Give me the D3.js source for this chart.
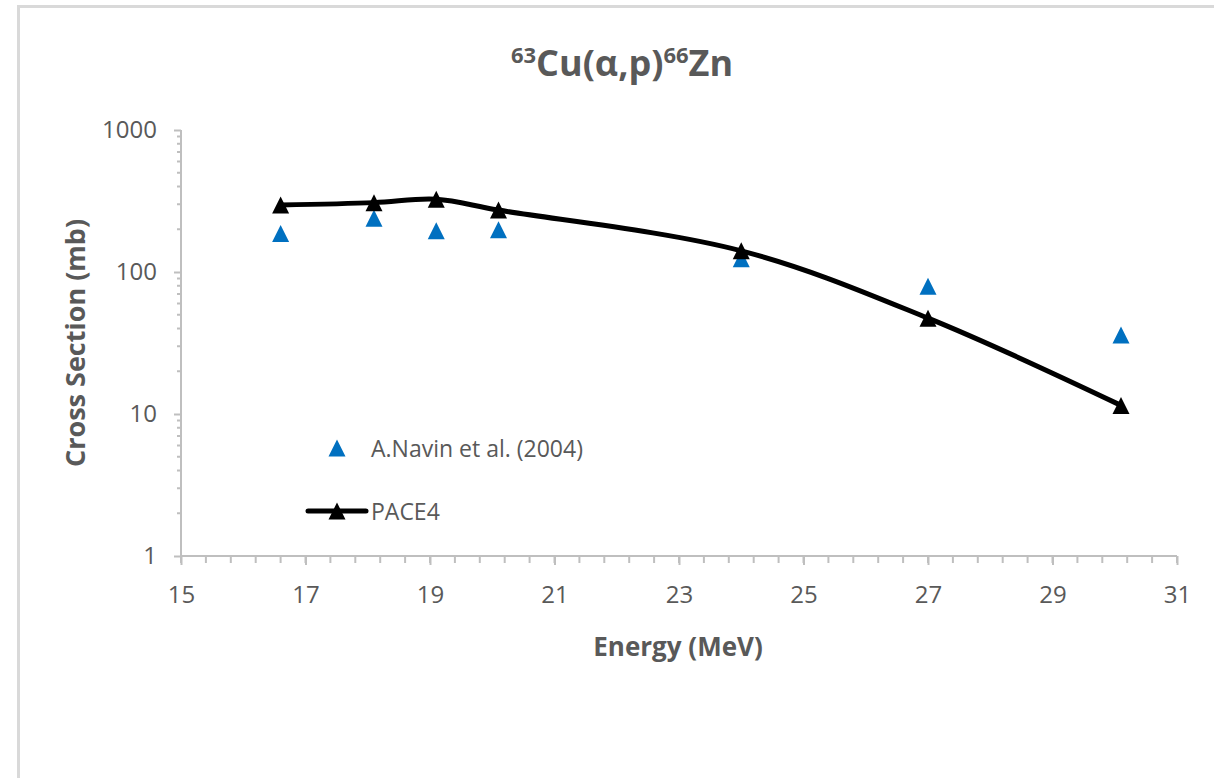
<!DOCTYPE html>
<html>
<head>
<meta charset="utf-8">
<script src="https://cdn.jsdelivr.net/npm/d3@7"></script>
<style>
  body { margin: 0; background: #fff; }
  text { font-family: 'Open Sans', sans-serif; }
</style>
</head>
<body>
<div id="chart"></div>
<script>
const energies = [16.6, 18.1, 19.1, 20.1, 24.0, 27.0, 30.1]
const navin2004 = [187, 239, 195, 198, 124, 79.5, 36]
const pace4 = [296, 308, 325, 273, 141, 47.3, 11.5]
const xTicks = [15, 17, 19, 21, 23, 25, 27, 29, 31]
const yTicks = [1, 10, 100, 1000]

const svg = d3.select('#chart').append('svg')
  .attr('width', 1214)
  .attr('height', 778)

// chart frame
svg.append('rect')
  .attr('x', 18.5)
  .attr('y', 6.5)
  .attr('width', 1300)
  .attr('height', 900)
  .attr('fill', 'none')
  .attr('stroke', '#d9d9d9')
  .attr('stroke-width', 3)

const xScale = d3.scaleLinear()
  .domain([15, 31])
  .range([181, 1177])
const yScale = d3.scaleLog()
  .domain([1, 1000])
  .range([556, 130])

const axisColor = '#bfbfbf'
const labelColor = '#595959'

// minor ticks
const xMinor = d3.range(15, 31.001, 0.4)
svg.selectAll('.xminor')
  .data(xMinor)
  .enter()
  .append('line')
  .attr('x1', d => xScale(d))
  .attr('x2', d => xScale(d))
  .attr('y1', 556)
  .attr('y2', 563)
  .attr('stroke', axisColor)
  .attr('stroke-width', 2)

const yMinor = []
yTicks.slice(0, 3).forEach(p => {
  for (let k = 2; k < 10; k++) yMinor.push(p * k)
})
svg.selectAll('.yminor')
  .data(yMinor)
  .enter()
  .append('line')
  .attr('x1', 177)
  .attr('x2', 181)
  .attr('y1', d => yScale(d))
  .attr('y2', d => yScale(d))
  .attr('stroke', axisColor)
  .attr('stroke-width', 2)

const xAxis = d3.axisBottom(xScale)
  .tickValues(xTicks)
  .tickSize(9)
  .tickPadding(21)
  .tickFormat(d3.format('d'))
const yAxis = d3.axisLeft(yScale)
  .tickValues(yTicks)
  .tickSize(7)
  .tickPadding(17)
  .tickFormat(d3.format('d'))

const gx = svg.append('g')
  .attr('transform', 'translate(0,556)')
  .call(xAxis)
const gy = svg.append('g')
  .attr('transform', 'translate(181,0)')
  .call(yAxis)

;[gx, gy].forEach(g => {
  g.select('.domain').attr('stroke', axisColor).attr('stroke-width', 2)
  g.selectAll('.tick line').attr('stroke', axisColor).attr('stroke-width', 2)
  g.selectAll('.tick text')
    .attr('fill', labelColor)
    .style('font-size', '24px')
    .style('font-family', "'Open Sans', sans-serif")
})
gx.select('.domain').attr('d', 'M181,0H1177')
gy.select('.domain').attr('d', 'M0,130V556')

// title
const title = svg.append('text')
  .attr('x', 622)
  .attr('y', 76)
  .attr('text-anchor', 'middle')
  .attr('fill', labelColor)
  .style('font-size', '36px')
  .style('font-weight', 'bold')
title.append('tspan').text('63').style('font-size', '22px').attr('dy', -13)
title.append('tspan').text('Cu(α,p)').attr('dy', 13)
title.append('tspan').text('66').style('font-size', '22px').attr('dy', -13)
title.append('tspan').text('Zn').attr('dy', 13)

svg.append('text')
  .attr('transform', 'translate(85,343) rotate(-90)')
  .attr('text-anchor', 'middle')
  .attr('fill', labelColor)
  .style('font-size', '27px')
  .style('font-weight', 'bold')
  .text('Cross Section (mb)')

svg.append('text')
  .attr('x', 678)
  .attr('y', 656)
  .attr('text-anchor', 'middle')
  .attr('fill', labelColor)
  .style('font-size', '26px')
  .style('font-weight', 'bold')
  .text('Energy (MeV)')

const tri = 'M0,-8.5L8.5,8.5L-8.5,8.5Z'
const blue = '#0070c0'

const navinData = energies.map((e, i) => ({ e: e, v: navin2004[i] }))
const paceData = energies.map((e, i) => ({ e: e, v: pace4[i] }))

svg.selectAll('.navin')
  .data(navinData)
  .enter()
  .append('path')
  .attr('d', tri)
  .attr('transform', d => `translate(${xScale(d.e)},${yScale(d.v)})`)
  .attr('fill', blue)

const line = d3.line()
  .x(d => xScale(d.e))
  .y(d => yScale(d.v))
  .curve(d3.curveCatmullRom.alpha(0.5))

svg.append('path')
  .datum(paceData)
  .attr('d', line)
  .attr('fill', 'none')
  .attr('stroke', '#000')
  .attr('stroke-width', 5)
  .attr('stroke-linejoin', 'round')

svg.selectAll('.pace')
  .data(paceData)
  .enter()
  .append('path')
  .attr('d', tri)
  .attr('transform', d => `translate(${xScale(d.e)},${yScale(d.v)})`)
  .attr('fill', '#000')

// legend
svg.append('path')
  .attr('d', tri)
  .attr('transform', 'translate(337,448)')
  .attr('fill', blue)
svg.append('text')
  .attr('x', 371)
  .attr('y', 457)
  .attr('fill', labelColor)
  .style('font-size', '23px')
  .text('A.Navin et al. (2004)')

svg.append('line')
  .attr('x1', 308)
  .attr('x2', 366)
  .attr('y1', 511)
  .attr('y2', 511)
  .attr('stroke', '#000')
  .attr('stroke-width', 5)
  .attr('stroke-linecap', 'round')
svg.append('path')
  .attr('d', tri)
  .attr('transform', 'translate(337,511)')
  .attr('fill', '#000')
svg.append('text')
  .attr('x', 371)
  .attr('y', 520)
  .attr('fill', labelColor)
  .style('font-size', '23px')
  .text('PACE4')
</script>
</body>
</html>
